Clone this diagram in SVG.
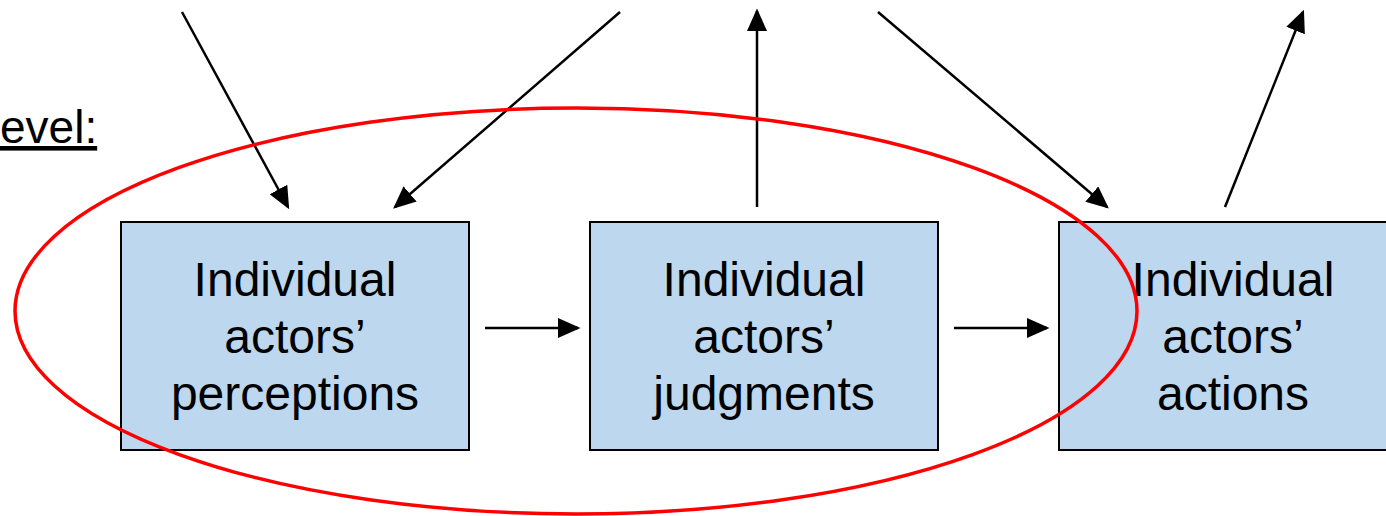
<svg xmlns="http://www.w3.org/2000/svg" width="1386" height="516" viewBox="0 0 1386 516">
<style>
.box{fill:#bdd7ee;stroke:#000;stroke-width:2}
.t{font-family:"Liberation Sans",Arial,sans-serif;font-size:48px;fill:#000;text-anchor:middle}
.c line{stroke:#000;stroke-width:2.5;marker-end:url(#ah)}
</style>
<defs>
<marker id="ah" markerWidth="9" markerHeight="8" refX="8" refY="4" orient="auto" markerUnits="strokeWidth">
<path d="M0,0 L9,4 L0,8 z" fill="#000"/>
</marker>
</defs>
<rect width="1386" height="516" fill="#fff"/>
<text x="0" y="143" style="font-family:'Liberation Sans',Arial,sans-serif;font-size:46px;text-decoration:underline">evel:</text>
<g id="n1">
<rect class="box" x="121" y="222" width="348" height="228"/>
<text class="t" x="295" y="296">Individual</text>
<text class="t" x="295" y="353">actors’</text>
<text class="t" x="295" y="410">perceptions</text>
</g>
<g id="n2">
<rect class="box" x="590" y="222" width="348" height="228"/>
<text class="t" x="764" y="296">Individual</text>
<text class="t" x="764" y="353">actors’</text>
<text class="t" x="764" y="410">judgments</text>
</g>
<g id="n3">
<rect class="box" x="1059" y="222" width="348" height="228"/>
<text class="t" x="1233" y="296">Individual</text>
<text class="t" x="1233" y="353">actors’</text>
<text class="t" x="1233" y="410">actions</text>
</g>
<g id="connectors" class="c">
<line x1="182" y1="12" x2="288" y2="207"/>
<line x1="620" y1="12" x2="395" y2="207"/>
<line x1="757" y1="207" x2="757" y2="11"/>
<line x1="878" y1="12" x2="1107" y2="207"/>
<line x1="1225" y1="207" x2="1303" y2="12"/>
<line x1="485" y1="328" x2="578" y2="328"/>
<line x1="954" y1="328" x2="1047" y2="328"/>
</g>
<ellipse id="ring" cx="576" cy="311" rx="561" ry="203" fill="none" stroke="#f00" stroke-width="3.5"/>
</svg>
